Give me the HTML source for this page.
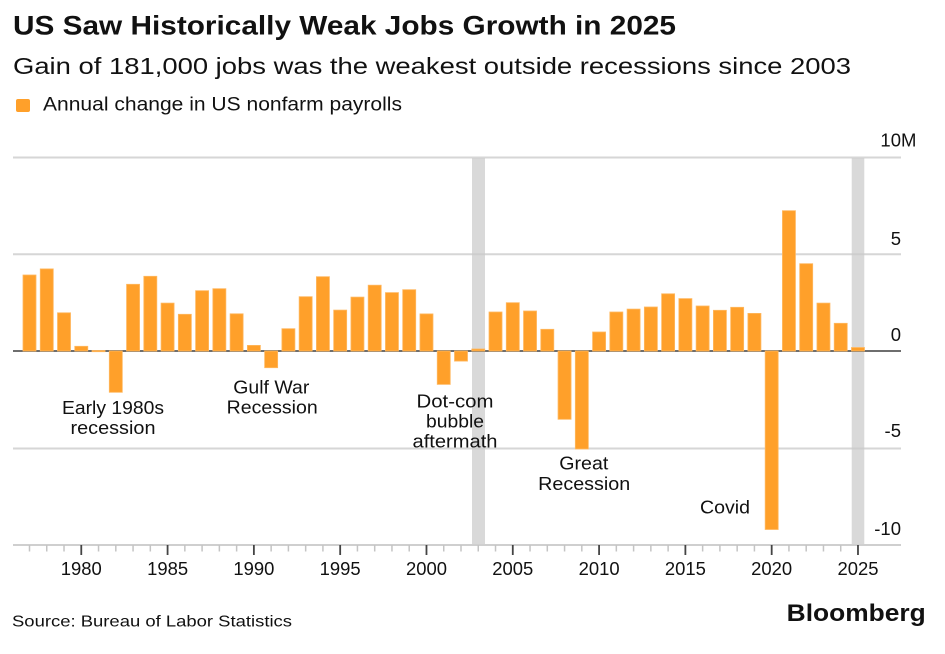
<!DOCTYPE html>
<html>
<head>
<meta charset="utf-8">
<style>
  html,body{margin:0;padding:0;background:#fff;}
  svg{display:block;}
  text{font-family:"Liberation Sans",Arial,sans-serif;fill:#111;}
</style>
</head>
<body>
<svg width="945" height="654" viewBox="0 0 945 654" xmlns="http://www.w3.org/2000/svg">
  <rect width="945" height="654" fill="#fff"/>

  <!-- Title / subtitle / legend -->
  <text x="13" y="34.3" font-size="27" font-weight="bold" textLength="663" lengthAdjust="spacingAndGlyphs" fill="#000">US Saw Historically Weak Jobs Growth in 2025</text>
  <text x="13" y="74" font-size="23" textLength="838" lengthAdjust="spacingAndGlyphs">Gain of 181,000 jobs was the weakest outside recessions since 2003</text>
  <rect x="16" y="99" width="14" height="13" rx="2" fill="#FFA02A"/>
  <text x="43" y="110.7" font-size="19" textLength="359" lengthAdjust="spacingAndGlyphs">Annual change in US nonfarm payrolls</text>

  <!-- Recession shading -->
  <rect x="472" y="158" width="13" height="387" fill="#d9d9d9"/>
  <rect x="851.7" y="158" width="12.6" height="387" fill="#d9d9d9"/>

  <!-- Gridlines -->
  <g stroke="#c8c8c8" stroke-opacity="0.75" stroke-width="2">
    <line x1="13" y1="157.5" x2="901" y2="157.5"/>
    <line x1="13" y1="254.3" x2="901" y2="254.3"/>
    <line x1="13" y1="448.5" x2="901" y2="448.5"/>
  </g>
  <!-- bottom axis -->
  <line x1="13" y1="545" x2="901" y2="545" stroke="#cfcfcf" stroke-width="2"/>

  <!-- zero line -->
  <line x1="13" y1="351" x2="901" y2="351" stroke="#5a5a5a" stroke-width="1.8"/>

  <!-- Y labels -->
  <g font-size="18.5" text-anchor="end">
    <text x="901" y="146.7">10</text>
    <text x="901" y="245">5</text>
    <text x="901" y="341">0</text>
    <text x="901" y="437">-5</text>
    <text x="901" y="535">-10</text>
  </g>
  <text x="901" y="146.7" font-size="18.5">M</text>

  <!-- Bars -->
  <g fill="#FFA02A" stroke="#FFB860" stroke-width="0.8">
    <rect x="23.00" y="275.0" width="13" height="76.0"/>
    <rect x="40.26" y="268.9" width="13" height="82.1"/>
    <rect x="57.52" y="312.8" width="13" height="38.2"/>
    <rect x="74.78" y="346.3" width="13" height="4.7"/>
    <rect x="92.04" y="350.5" width="13" height="1.2"/>
    <rect x="109.30" y="351" width="13" height="41.3"/>
    <rect x="126.56" y="284.3" width="13" height="66.7"/>
    <rect x="143.82" y="276.3" width="13" height="74.7"/>
    <rect x="161.08" y="303.1" width="13" height="47.9"/>
    <rect x="178.34" y="314.3" width="13" height="36.7"/>
    <rect x="195.60" y="290.7" width="13" height="60.3"/>
    <rect x="212.86" y="288.7" width="13" height="62.3"/>
    <rect x="230.12" y="313.8" width="13" height="37.2"/>
    <rect x="247.38" y="345.4" width="13" height="5.6"/>
    <rect x="264.64" y="351" width="13" height="16.7"/>
    <rect x="281.90" y="328.7" width="13" height="22.3"/>
    <rect x="299.16" y="296.7" width="13" height="54.3"/>
    <rect x="316.42" y="276.7" width="13" height="74.3"/>
    <rect x="333.68" y="310.1" width="13" height="40.9"/>
    <rect x="350.94" y="297.1" width="13" height="53.9"/>
    <rect x="368.20" y="285.2" width="13" height="65.8"/>
    <rect x="385.46" y="292.6" width="13" height="58.4"/>
    <rect x="402.72" y="289.7" width="13" height="61.3"/>
    <rect x="419.98" y="313.9" width="13" height="37.1"/>
    <rect x="437.24" y="351" width="13" height="33.4"/>
    <rect x="454.50" y="351" width="13" height="10.1"/>
    <rect x="471.76" y="349.0" width="13" height="2.0"/>
    <rect x="489.02" y="312.0" width="13" height="39.0"/>
    <rect x="506.28" y="302.7" width="13" height="48.3"/>
    <rect x="523.54" y="311.0" width="13" height="40.0"/>
    <rect x="540.80" y="329.3" width="13" height="21.7"/>
    <rect x="558.06" y="351" width="13" height="68.3"/>
    <rect x="575.32" y="351" width="13" height="98.0"/>
    <rect x="592.58" y="332.0" width="13" height="19.0"/>
    <rect x="609.84" y="312.0" width="13" height="39.0"/>
    <rect x="627.10" y="309.1" width="13" height="41.9"/>
    <rect x="644.36" y="307.0" width="13" height="44.0"/>
    <rect x="661.62" y="293.8" width="13" height="57.2"/>
    <rect x="678.88" y="298.6" width="13" height="52.4"/>
    <rect x="696.14" y="306.0" width="13" height="45.0"/>
    <rect x="713.40" y="310.3" width="13" height="40.7"/>
    <rect x="730.66" y="307.3" width="13" height="43.7"/>
    <rect x="747.92" y="313.4" width="13" height="37.6"/>
    <rect x="765.18" y="351" width="13" height="178.5"/>
    <rect x="782.44" y="210.7" width="13" height="140.3"/>
    <rect x="799.70" y="263.7" width="13" height="87.3"/>
    <rect x="816.96" y="303.1" width="13" height="47.9"/>
    <rect x="834.22" y="323.3" width="13" height="27.7"/>
    <rect x="851.48" y="347.5" width="13" height="3.5"/>
  </g>

  <!-- minor ticks -->
  <g stroke="#c4c4c4" stroke-width="1.5">
    <line x1="29.5" y1="545" x2="29.5" y2="551.5"/>
    <line x1="46.76" y1="545" x2="46.76" y2="551.5"/>
    <line x1="64.02" y1="545" x2="64.02" y2="551.5"/>
    <line x1="98.54" y1="545" x2="98.54" y2="551.5"/>
    <line x1="115.8" y1="545" x2="115.8" y2="551.5"/>
    <line x1="133.06" y1="545" x2="133.06" y2="551.5"/>
    <line x1="150.32" y1="545" x2="150.32" y2="551.5"/>
    <line x1="184.84" y1="545" x2="184.84" y2="551.5"/>
    <line x1="202.1" y1="545" x2="202.1" y2="551.5"/>
    <line x1="219.36" y1="545" x2="219.36" y2="551.5"/>
    <line x1="236.62" y1="545" x2="236.62" y2="551.5"/>
    <line x1="271.14" y1="545" x2="271.14" y2="551.5"/>
    <line x1="288.4" y1="545" x2="288.4" y2="551.5"/>
    <line x1="305.66" y1="545" x2="305.66" y2="551.5"/>
    <line x1="322.92" y1="545" x2="322.92" y2="551.5"/>
    <line x1="357.44" y1="545" x2="357.44" y2="551.5"/>
    <line x1="374.7" y1="545" x2="374.7" y2="551.5"/>
    <line x1="391.96" y1="545" x2="391.96" y2="551.5"/>
    <line x1="409.22" y1="545" x2="409.22" y2="551.5"/>
    <line x1="443.74" y1="545" x2="443.74" y2="551.5"/>
    <line x1="461.0" y1="545" x2="461.0" y2="551.5"/>
    <line x1="478.26" y1="545" x2="478.26" y2="551.5"/>
    <line x1="495.52" y1="545" x2="495.52" y2="551.5"/>
    <line x1="530.04" y1="545" x2="530.04" y2="551.5"/>
    <line x1="547.3" y1="545" x2="547.3" y2="551.5"/>
    <line x1="564.56" y1="545" x2="564.56" y2="551.5"/>
    <line x1="581.82" y1="545" x2="581.82" y2="551.5"/>
    <line x1="616.34" y1="545" x2="616.34" y2="551.5"/>
    <line x1="633.6" y1="545" x2="633.6" y2="551.5"/>
    <line x1="650.86" y1="545" x2="650.86" y2="551.5"/>
    <line x1="668.12" y1="545" x2="668.12" y2="551.5"/>
    <line x1="702.64" y1="545" x2="702.64" y2="551.5"/>
    <line x1="719.9" y1="545" x2="719.9" y2="551.5"/>
    <line x1="737.16" y1="545" x2="737.16" y2="551.5"/>
    <line x1="754.42" y1="545" x2="754.42" y2="551.5"/>
    <line x1="788.94" y1="545" x2="788.94" y2="551.5"/>
    <line x1="806.2" y1="545" x2="806.2" y2="551.5"/>
    <line x1="823.46" y1="545" x2="823.46" y2="551.5"/>
    <line x1="840.72" y1="545" x2="840.72" y2="551.5"/>
  </g>
  <!-- major ticks -->
  <g stroke="#444" stroke-width="1.8">
    <line x1="81.28" y1="545" x2="81.28" y2="555"/>
    <line x1="167.58" y1="545" x2="167.58" y2="555"/>
    <line x1="253.88" y1="545" x2="253.88" y2="555"/>
    <line x1="340.18" y1="545" x2="340.18" y2="555"/>
    <line x1="426.48" y1="545" x2="426.48" y2="555"/>
    <line x1="512.78" y1="545" x2="512.78" y2="555"/>
    <line x1="599.08" y1="545" x2="599.08" y2="555"/>
    <line x1="685.38" y1="545" x2="685.38" y2="555"/>
    <line x1="771.68" y1="545" x2="771.68" y2="555"/>
    <line x1="857.98" y1="545" x2="857.98" y2="555"/>
  </g>

  <!-- X labels -->
  <g font-size="18" text-anchor="middle">
    <text x="81.3" y="575" textLength="41" lengthAdjust="spacingAndGlyphs">1980</text>
    <text x="167.6" y="575" textLength="41" lengthAdjust="spacingAndGlyphs">1985</text>
    <text x="253.9" y="575" textLength="41" lengthAdjust="spacingAndGlyphs">1990</text>
    <text x="340.2" y="575" textLength="41" lengthAdjust="spacingAndGlyphs">1995</text>
    <text x="426.5" y="575" textLength="41" lengthAdjust="spacingAndGlyphs">2000</text>
    <text x="512.8" y="575" textLength="41" lengthAdjust="spacingAndGlyphs">2005</text>
    <text x="599.1" y="575" textLength="41" lengthAdjust="spacingAndGlyphs">2010</text>
    <text x="685.4" y="575" textLength="41" lengthAdjust="spacingAndGlyphs">2015</text>
    <text x="771.7" y="575" textLength="41" lengthAdjust="spacingAndGlyphs">2020</text>
    <text x="858" y="575" textLength="41" lengthAdjust="spacingAndGlyphs">2025</text>
  </g>

  <!-- Annotations -->
  <g font-size="18.5" text-anchor="middle">
    <text x="113" y="414" textLength="102" lengthAdjust="spacingAndGlyphs">Early 1980s</text>
    <text x="113" y="434" textLength="85" lengthAdjust="spacingAndGlyphs">recession</text>
    <text x="271.3" y="393.3" textLength="76" lengthAdjust="spacingAndGlyphs">Gulf War</text>
    <text x="272.2" y="413.3" textLength="91" lengthAdjust="spacingAndGlyphs">Recession</text>
    <text x="455" y="407.3" textLength="77" lengthAdjust="spacingAndGlyphs">Dot-com</text>
    <text x="455" y="427.7" textLength="58" lengthAdjust="spacingAndGlyphs">bubble</text>
    <text x="455" y="447.7" textLength="85" lengthAdjust="spacingAndGlyphs">aftermath</text>
    <text x="583.8" y="469.3" textLength="49" lengthAdjust="spacingAndGlyphs">Great</text>
    <text x="584.2" y="490" textLength="92" lengthAdjust="spacingAndGlyphs">Recession</text>
    <text x="725" y="513.3" textLength="50" lengthAdjust="spacingAndGlyphs">Covid</text>
  </g>

  <!-- Footer -->
  <text x="12" y="626.7" font-size="16" textLength="280" lengthAdjust="spacingAndGlyphs" fill="#222">Source: Bureau of Labor Statistics</text>
  <text x="786.7" y="621" font-size="24" font-weight="bold" textLength="139" lengthAdjust="spacingAndGlyphs" fill="#000">Bloomberg</text>
</svg>
</body>
</html>
